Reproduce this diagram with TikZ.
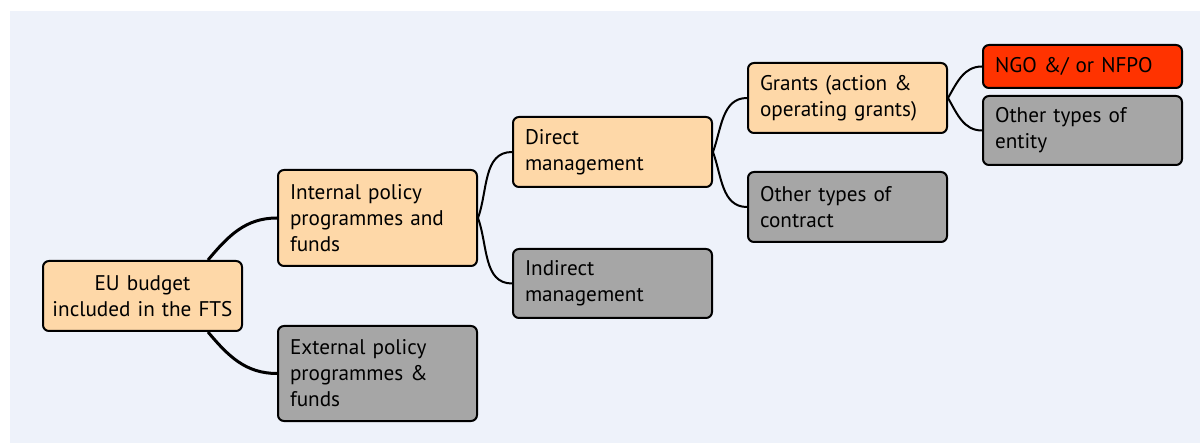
\documentclass[tikz,border=0pt]{standalone}
\usepackage{fontspec}
\setmainfont{PT Sans}
\definecolor{bgblue}{RGB}{238,242,250}
\definecolor{peach}{RGB}{254,216,168}
\definecolor{boxgray}{RGB}{166,166,166}
\definecolor{ngored}{RGB}{255,51,0}
\begin{document}
\begin{tikzpicture}[x=0.5pt,y=-0.5pt]
\useasboundingbox (0,0) rectangle (1200,443);
\fill[bgblue] (10,11) rectangle (1200,443);

\coordinate (C_eu) at (142.5, 296);
\coordinate (C_int) at (377.5, 218);
\coordinate (C_ext) at (377.5, 373.5);
\coordinate (C_dir) at (612.5, 152);
\coordinate (C_ind) at (612.5, 283.5);
\coordinate (C_gra) at (847.5, 98);
\coordinate (C_con) at (847.5, 207);
\coordinate (C_ngo) at (1082.5, 66.5);
\coordinate (C_ent) at (1082.5, 130.5);


\tikzset{BoxStyle/.style = {
 shape = rectangle,
 draw = black,
 line width = 1pt,
 rounded corners = 3pt,
 inner xsep = 6pt,
 inner ysep = 0pt,
 text width = 87.5pt,
 align = left,
 font = \fontsize{10.6}{13}\selectfont} }

\node[BoxStyle, fill=peach, minimum height=35pt, inner xsep=1pt, text width=97.5pt, align=center] (eu) at (C_eu) {EU budget\\included in the FTS};
\node[BoxStyle, fill=peach, minimum height=48pt] (int) at (C_int) {Internal policy\\programmes and\\funds};
\node[BoxStyle, fill=boxgray, minimum height=47.5pt] (ext) at (C_ext) {External policy\\programmes \&\\funds};
\node[BoxStyle, fill=peach, minimum height=35pt] (dir) at (C_dir) {Direct\\management};
\node[BoxStyle, fill=boxgray, minimum height=34.5pt] (ind) at (C_ind) {Indirect\\management};
\node[BoxStyle, fill=peach, minimum height=35pt] (gra) at (C_gra) {Grants (action \&\\operating grants)};
\node[BoxStyle, fill=boxgray, minimum height=35pt] (con) at (C_con) {Other types of\\contract};
\node[BoxStyle, fill=ngored, minimum height=21.5pt] (ngo) at (C_ngo) {NGO \&/ or NFPO};
\node[BoxStyle, fill=boxgray, minimum height=34.5pt] (ent) at (C_ent) {Other types of\\entity};


\tikzset{LinkStyle/.style = {draw = black, line width = 1pt} }
\tikzset{MainLinkStyle/.style = {LinkStyle, line width = 1.5pt} }

\draw[MainLinkStyle] ([xshift=-17.5pt]eu.north east) to[out=50, in=180] (int.west);
\draw[MainLinkStyle] ([xshift=-17.5pt]eu.south east) to[out=-50, in=180] (ext.west);
\draw[LinkStyle] (int.east) to[out=70, in=180] (dir.west);
\draw[LinkStyle] (int.east) to[out=-70, in=180] (ind.west);
\draw[LinkStyle] (dir.east) to[out=70, in=180] (gra.west);
\draw[LinkStyle] (dir.east) to[out=-70, in=180] (con.west);
\draw[LinkStyle] (gra.east) to[out=60, in=180] (ngo.west);
\draw[LinkStyle] (gra.east) to[out=-60, in=180] (ent.west);

\end{tikzpicture}
\end{document}
